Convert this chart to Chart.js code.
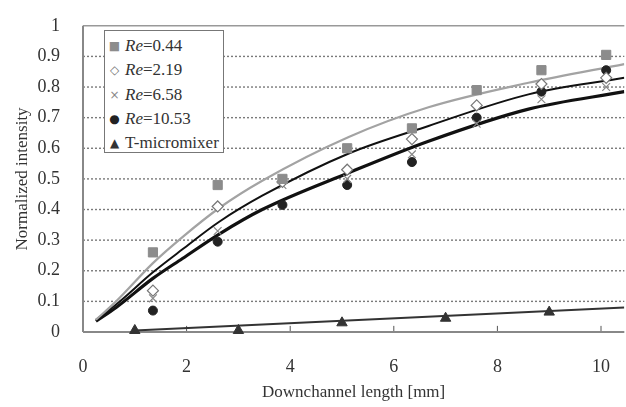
<!DOCTYPE html>
<html>
<head>
<meta charset="utf-8">
<script src="https://cdn.jsdelivr.net/npm/chart.js@4/dist/chart.umd.min.js"></script>
<style>
  html, body { margin: 0; padding: 0; background: #fff; }
  #legend {
    position: absolute; left: 104px; top: 30px; width: 120px; height: 123px;
    border: 1px solid #777; background: #fff; box-sizing: border-box;
    font-family: "Liberation Serif", serif; font-size: 17px; color: #333;
    padding-top: 3px;
  }
  #legend div { height: 24.3px; line-height: 24px; white-space: nowrap; }
  #legend span.m { display: inline-block; width: 19px; text-align: center; font-family: "DejaVu Sans", sans-serif; font-size: 12px; margin-right: 1px; vertical-align: 1px; }
  #legend i { font-style: italic; }
</style>
</head>
<body>
<canvas id="chart" width="626" height="407"></canvas>
<div id="legend">
  <div><span class="m" style="color:#8c8c8c">■</span><i>Re</i>=0.44</div>
  <div><span class="m" style="color:#777">◇</span><i>Re</i>=2.19</div>
  <div><span class="m" style="color:#888">×</span><i>Re</i>=6.58</div>
  <div><span class="m" style="color:#222">●</span><i>Re</i>=10.53</div>
  <div><span class="m" style="color:#333">▲</span>T-micromixer</div>
</div>
<script>
// measured positions along the channel [mm]
const xRe = [1.35, 2.6, 3.85, 5.1, 6.35, 7.6, 8.85, 10.1];
const re044 = [0.26, 0.48, 0.50, 0.60, 0.665, 0.79, 0.855, 0.905];
const re219 = [0.135, 0.41, 0.49, 0.53, 0.63, 0.74, 0.81, 0.83];
const re658 = [0.11, 0.33, 0.48, 0.50, 0.58, 0.68, 0.76, 0.80];
const re1053 = [0.07, 0.295, 0.415, 0.48, 0.555, 0.70, 0.785, 0.855];

const xT = [1, 3, 5, 7, 9];
const tMixer = [0.005, 0.005, 0.03, 0.045, 0.065];

// fitted trend lines
const xFit = [0.25, 0.64, 1.35, 1.92, 2.63, 3.46, 5.13, 6.67, 8.6, 10.45];
const fitGray = [0.04, 0.10, 0.225, 0.31, 0.405, 0.494, 0.637, 0.734, 0.814, 0.875];
const fitThin = [0.04, 0.09, 0.195, 0.27, 0.36, 0.445, 0.583, 0.673, 0.776, 0.83];
const fitThick = [0.035, 0.08, 0.175, 0.24, 0.32, 0.40, 0.52, 0.623, 0.728, 0.785];
const xFitT = [1, 10.45];
const fitT = [0.005, 0.08];

const yTicks = [0, 0.1, 0.2, 0.3, 0.4, 0.5, 0.6, 0.7, 0.8, 0.9, 1];
const xTicks = [0, 2, 4, 6, 8, 10];
const xMax = 10.45;

const pts = (xs, ys) => xs.map((x, i) => ({ x: x, y: ys[i] }));

const serif = '"Liberation Serif", "Times New Roman", serif';

// frame drawn as plain line datasets: dotted grid, solid top, axes, inward x ticks
const frameSets = [];
yTicks.slice(1).forEach(v => {
  frameSets.push({ type: 'line', data: [{ x: 0, y: v }, { x: xMax, y: v }],
    borderColor: v === 1 ? '#999' : '#7a7a7a', borderWidth: 1.4,
    borderDash: v === 1 ? [] : [2, 2], pointRadius: 0, fill: false, clip: false, order: 3 });
});
frameSets.push({ type: 'line', data: [{ x: 0, y: 0 }, { x: xMax, y: 0 }],
  borderColor: '#888', borderWidth: 2, pointRadius: 0, fill: false, clip: false, order: 2 });
frameSets.push({ type: 'line', data: [{ x: 0, y: 0 }, { x: 0, y: 1 }],
  borderColor: '#888', borderWidth: 2, pointRadius: 0, fill: false, clip: false, order: 2 });
xTicks.slice(1).forEach(v => {
  frameSets.push({ type: 'line', data: [{ x: v, y: 0 }, { x: v, y: 0.02 }],
    borderColor: '#555', borderWidth: 1, pointRadius: 0, fill: false, clip: false, order: 2 });
});

new Chart(document.getElementById('chart'), {
  type: 'scatter',
  data: {
    datasets: [
      { label: 'Re=0.44', data: pts(xRe, re044), pointStyle: 'rect', pointRadius: 6.5,
        backgroundColor: '#8c8c8c', borderColor: '#8c8c8c', borderWidth: 1, order: 0 },
      { label: 'Re=2.19', data: pts(xRe, re219), pointStyle: 'rectRot', pointRadius: 5.5,
        backgroundColor: '#fff', borderColor: '#777', borderWidth: 1.2, order: 0 },
      { label: 'Re=6.58', data: pts(xRe, re658), pointStyle: 'crossRot', pointRadius: 5.5,
        backgroundColor: '#888', borderColor: '#888', borderWidth: 1.2, order: 0 },
      { label: 'Re=10.53', data: pts(xRe, re1053), pointStyle: 'circle', pointRadius: 4.5,
        backgroundColor: '#222', borderColor: '#222', borderWidth: 1, order: 0 },
      { label: 'T-micromixer', data: pts(xT, tMixer), pointStyle: 'triangle', pointRadius: 6,
        backgroundColor: '#333', borderColor: '#333', borderWidth: 1, order: 0, clip: false },
      { label: 'fit gray', type: 'line', data: pts(xFit, fitGray), borderColor: '#a3a3a3', borderWidth: 2.2,
        pointRadius: 0, cubicInterpolationMode: 'monotone', fill: false, order: 1 },
      { label: 'fit thin', type: 'line', data: pts(xFit, fitThin), borderColor: '#111', borderWidth: 2,
        pointRadius: 0, cubicInterpolationMode: 'monotone', fill: false, order: 1 },
      { label: 'fit thick', type: 'line', data: pts(xFit, fitThick), borderColor: '#111', borderWidth: 3.2,
        pointRadius: 0, cubicInterpolationMode: 'monotone', fill: false, order: 1 },
      { label: 'fit T', type: 'line', data: pts(xFitT, fitT), borderColor: '#333', borderWidth: 2,
        pointRadius: 0, fill: false, order: 1 }
    ].concat(frameSets)
  },
  options: {
    responsive: false,
    animation: false,
    layout: { autoPadding: false, padding: { top: 20, right: 0, left: 0, bottom: 0 } },
    plugins: { legend: { display: false }, tooltip: { enabled: false } },
    scales: {
      x: {
        type: 'linear', min: 0, max: xMax,
        afterBuildTicks: s => { s.ticks = xTicks.map(v => ({ value: v })); },
        afterFit: s => { s.height = 75; },
        grid: { display: false },
        border: { display: false },
        ticks: { color: '#333', font: { family: serif, size: 18 }, padding: 16, maxRotation: 0 },
        title: { display: true, text: 'Downchannel length [mm]', color: '#333',
          font: { family: serif, size: 17 }, padding: { top: 3 } }
      },
      y: {
        min: 0, max: 1,
        afterBuildTicks: s => { s.ticks = yTicks.map(v => ({ value: v })); },
        afterFit: s => { s.width = 83; },
        grid: { display: false },
        border: { display: false },
        ticks: { color: '#333', font: { family: serif, size: 18 }, padding: 15,
          callback: v => String(v) },
        title: { display: true, text: 'Normalized intensity', color: '#333',
          font: { family: serif, size: 17 }, padding: { top: 12, bottom: 0 } }
      }
    }
  }
});
</script>
</body>
</html>
